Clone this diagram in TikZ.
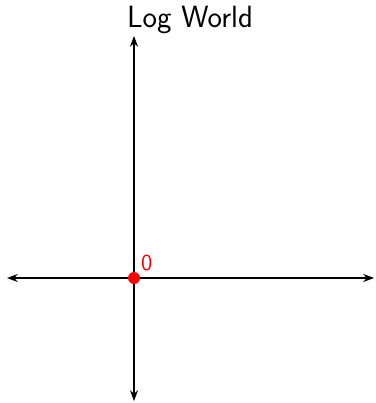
\documentclass[tikz,border=0pt]{standalone}
\usepackage{tikz}
\usetikzlibrary{arrows.meta}
\renewcommand{\familydefault}{\sfdefault}

\begin{document}
\begin{tikzpicture}[
    >=Stealth,
    axis/.style={<->, line width=0.7pt},
    dot/.style={circle, fill=red, inner sep=0pt, minimum size=0.24cm},
  ]
    \useasboundingbox (0,0) rectangle (7.5,-8.06);

    % origin and axis ends
    \coordinate (O) at (2.68,-5.56);
    \coordinate (xl) at (0.14,-5.56);
    \coordinate (xr) at (7.48,-5.56);
    \coordinate (yt) at (2.68,-0.72);
    \coordinate (yb) at (2.68,-8.02);

    % title
    \node[font=\fontsize{17.5}{20}\selectfont] (title) at (3.8,-0.4) {Log World};

    % axes
    \draw[axis] (xl) -- (xr);
    \draw[axis] (yb) -- (yt);
    \node[dot] (dotO) at (O) {};
    \node[red, font=\fontsize{13}{15}\selectfont, anchor=south west, inner sep=1pt] (zero) at (2.78,-5.47) {0};
  \end{tikzpicture}
\end{document}
